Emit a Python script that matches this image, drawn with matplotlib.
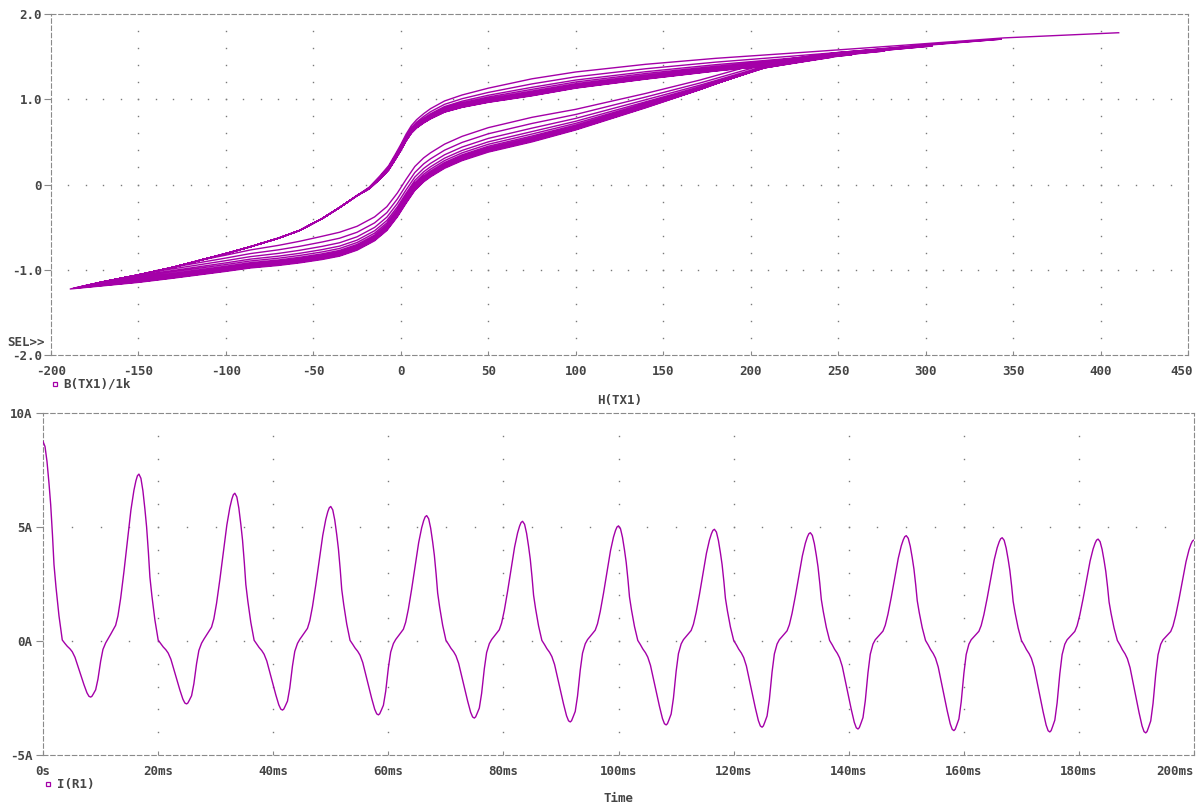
import numpy as np
import matplotlib.pyplot as plt
import matplotlib.transforms as mtransforms
from matplotlib.lines import Line2D

# ---- I(R1) ----
period_ms = 1000.0 / 60.0
peaks_A = [8.75, 7.32, 6.48, 5.90, 5.50, 5.25, 5.05, 4.90, 4.75, 4.62, 4.53, 4.47, 4.43]
troughs_A = [-2.46, -2.76, -3.03, -3.24, -3.38, -3.55, -3.68, -3.78, -3.86, -3.93, -3.99, -4.03]

# one cycle of the waveform, traced from the second cycle
# phase in pixels of a 96 px period, value normalised to the extreme named in shape_ref
# shape_ref: 0 = this peak, 1 = this trough, 2 = next peak
shape_px = [0, 2, 4, 6, 7.7, 9.5, 11, 13, 16, 19.3,
            22, 24.3, 27, 29.3, 32, 34.3, 38, 41, 44, 46, 47.7, 49, 50.5, 52.7, 55, 57.7, 60, 62.7,
            65, 67.7, 70, 72.7, 75, 77.7, 81, 84.3, 88, 91, 93, 94.5, 96]
shape_val = [1.0, 0.975, 0.90, 0.79, 0.683, 0.53, 0.383, 0.27, 0.126, 0.005,
             -0.045, -0.094, -0.14, -0.192, -0.29, -0.413, -0.616, -0.779, -0.924, -0.986, -1.0,
             -0.985, -0.94, -0.87, -0.68, -0.36, -0.15, -0.035,
             0.012, 0.04, 0.065, 0.094, 0.15, 0.255, 0.415, 0.592, 0.785, 0.903, 0.96, 0.99, 1.0]
shape_ref = [0] * 10 + [1] * 18 + [2] * 13

# ---- B(TX1)/1k vs H(TX1) ----
amp_to_H = 46.9  # H(TX1) per ampere of I(R1)

# outer descending branch (first cycle)
up_H = [-190, -170, -150, -130, -115, -100, -86, -70, -58, -45, -35, -25, -18, -12, -7, -3,
        0, 3, 6, 9, 13, 17, 25, 35, 50, 75, 100, 140, 180, 230, 285, 345, 410]
up_B = [-1.23, -1.14, -1.06, -0.97, -0.89, -0.81, -0.73, -0.63, -0.54, -0.40, -0.27, -0.13,
        -0.03, 0.10, 0.22, 0.36, 0.47, 0.59, 0.69, 0.76, 0.83, 0.89, 0.98, 1.05, 1.13, 1.24,
        1.32, 1.41, 1.48, 1.55, 1.63, 1.72, 1.78]
# lowest ascending branch (last cycle)
lo_H = [-190, -170, -150, -130, -115, -100, -86, -70, -58, -45, -35, -25, -15, -8, -2, 3, 8,
        13, 17, 25, 35, 50, 75, 100, 140, 171, 208, 250, 300, 345, 410]
lo_B = [-1.23, -1.19, -1.15, -1.10, -1.06, -1.02, -0.98, -0.95, -0.92, -0.88, -0.84, -0.77,
        -0.66, -0.54, -0.38, -0.22, -0.07, 0.03, 0.09, 0.19, 0.28, 0.38, 0.50, 0.64, 0.90,
        1.08, 1.30, 1.42, 1.52, 1.60, 1.70]
# how far later descending branches sit below the outer one
up_drop_H = [-25, 17, 74, 150, 250, 410]
up_drop_B = [0.0, 0.12, 0.20, 0.17, 0.10, 0.0]
up_weight = [0.0, 0.30, 0.50, 0.62, 0.72, 0.80, 0.86, 0.90, 0.93, 0.96, 0.98, 1.0, 1.0]
# how far earlier ascending branches sit above the lowest one
lo_lift_H = [-40, 0, 74, 150]
lo_lift_B = [0.28, 0.28, 0.29, 0.15]
lo_weight = [1.0, 0.75, 0.56, 0.42, 0.32, 0.24, 0.18, 0.13, 0.09, 0.06, 0.03, 0.0]

line_col = '#a400a8'
text_col = '#454545'
frame_col = '#8a8a8a'
font = dict(family='DejaVu Sans Mono', weight='bold', size=9, color=text_col)

# build the current trace
t_ms, cur_A = [], []
for c in range(len(troughs_A)):
    refs = [peaks_A[c], -troughs_A[c], peaks_A[c + 1]]
    for px, v, r in zip(shape_px, shape_val, shape_ref):
        if c > 0 and px == 0:
            continue
        t_ms.append((c + px / 96.0) * period_ms)
        cur_A.append(v * refs[r])

# build the B-H trace
H_max = [amp_to_H * p for p in peaks_A]
H_min = [amp_to_H * p for p in troughs_A]


def upper(c, h):
    return np.interp(h, up_H, up_B) - up_weight[c] * np.interp(h, up_drop_H, up_drop_B)


loop_H, loop_B = [], []
for c in range(len(troughs_A)):
    hs = [H_max[c]] + [h for h in up_H[::-1] if H_min[c] < h < H_max[c]] + [H_min[c]]
    loop_H += hs
    loop_B += list(upper(c, np.array(hs)))
    hs = [H_min[c]] + [h for h in lo_H if H_min[c] < h < H_max[c + 1]] + [H_max[c + 1]]
    hs = np.array(hs)
    gap0 = upper(c, H_min[c]) - np.interp(H_min[c], lo_H, lo_B)
    gap1 = upper(c + 1, H_max[c + 1]) - np.interp(H_max[c + 1], lo_H, lo_B)
    lift = np.interp(hs, [H_min[c]] + lo_lift_H + [H_max[c + 1]],
                     [gap0] + [lo_weight[c] * v for v in lo_lift_B] + [gap1])
    loop_H += list(hs)
    loop_B += list(np.interp(hs, lo_H, lo_B) + lift)

W, Hh = 1196, 805
fig = plt.figure(figsize=(W / 100, Hh / 100), dpi=100)
ax1 = fig.add_axes([51 / W, 1 - 355 / Hh, 1137 / W, 341 / Hh])
ax2 = fig.add_axes([43 / W, 1 - 755 / Hh, 1151 / W, 342 / Hh])


def style(ax, xlim, ylim, xt, yt, xlab, ylab, xdot, ydot, ypad, last_shift):
    ax.set_xlim(xlim)
    ax.set_ylim(ylim)
    for s in ax.spines.values():
        s.set_linestyle((0, (4, 2.5)))
        s.set_color(frame_col)
        s.set_linewidth(0.8)
    ax.set_xticks(xt)
    ax.set_xticklabels(xlab, fontdict=font)
    ax.set_yticks(yt)
    ax.set_yticklabels(ylab, fontdict=font)
    ax.tick_params(axis='x', direction='in', length=3, width=0.8, color=frame_col, pad=7)
    ax.tick_params(axis='y', direction='out', length=5, width=0.8, color=frame_col, pad=ypad)
    # last label sits flush with the picture edge, as in PSpice
    lab = ax.get_xticklabels()[-1]
    lab.set_horizontalalignment('right')
    lab.set_transform(lab.get_transform() +
                      mtransforms.ScaledTranslation(last_shift / 100, 0, fig.dpi_scale_trans))
    # dotted grid as PSpice draws it
    gx, gy = [], []
    for x in xt[1:-1]:
        for y in np.arange(ylim[0], ylim[1] + 1e-9, ydot)[1:-1]:
            gx.append(x)
            gy.append(y)
    for y in yt[1:-1]:
        for x in np.arange(xlim[0], xlim[1] + 1e-9, xdot)[1:-1]:
            gx.append(x)
            gy.append(y)
    ax.plot(gx, gy, ls='none', marker='s', ms=1.0, mew=0, color='#7a7a7a', zorder=1)


style(ax1, (-200, 450), (-2.0, 2.0), list(range(-200, 451, 50)), [-2, -1, 0, 1, 2],
      [str(v) for v in range(-200, 451, 50)], ['-2.0', '-1.0', '0', '1.0', '2.0'],
      10, 0.2, 1.5, 5)
style(ax2, (0, 200), (-5, 10), list(range(0, 201, 20)), [-5, 0, 5, 10],
      ['0s'] + ['%dms' % v for v in range(20, 201, 20)], ['-5A', '0A', '5A', '10A'],
      5, 1, 2.5, 0)

ax1.plot(loop_H, loop_B, color=line_col, lw=1.0, zorder=3)
ax2.plot(t_ms, cur_A, color=line_col, lw=1.0, zorder=3)

fig.text(620 / W, 1 - 400 / Hh, 'H(TX1)', ha='center', va='center', **font)
fig.text(618 / W, 1 - 798 / Hh, 'Time', ha='center', va='center', **font)
fig.text(7 / W, 1 - 342 / Hh, 'SEL>>', ha='left', va='center', **font)
for (mx, my, tx, label) in [(55, 384, 63, 'B(TX1)/1k'), (48, 784, 57, 'I(R1)')]:
    fig.add_artist(Line2D([mx / W], [1 - my / Hh], marker='s', ms=3.5, mfc='none',
                          mec=line_col, mew=0.9, transform=fig.transFigure))
    fig.text(tx / W, 1 - my / Hh, label, ha='left', va='center', **font)

fig.savefig('out.png', dpi=100)
